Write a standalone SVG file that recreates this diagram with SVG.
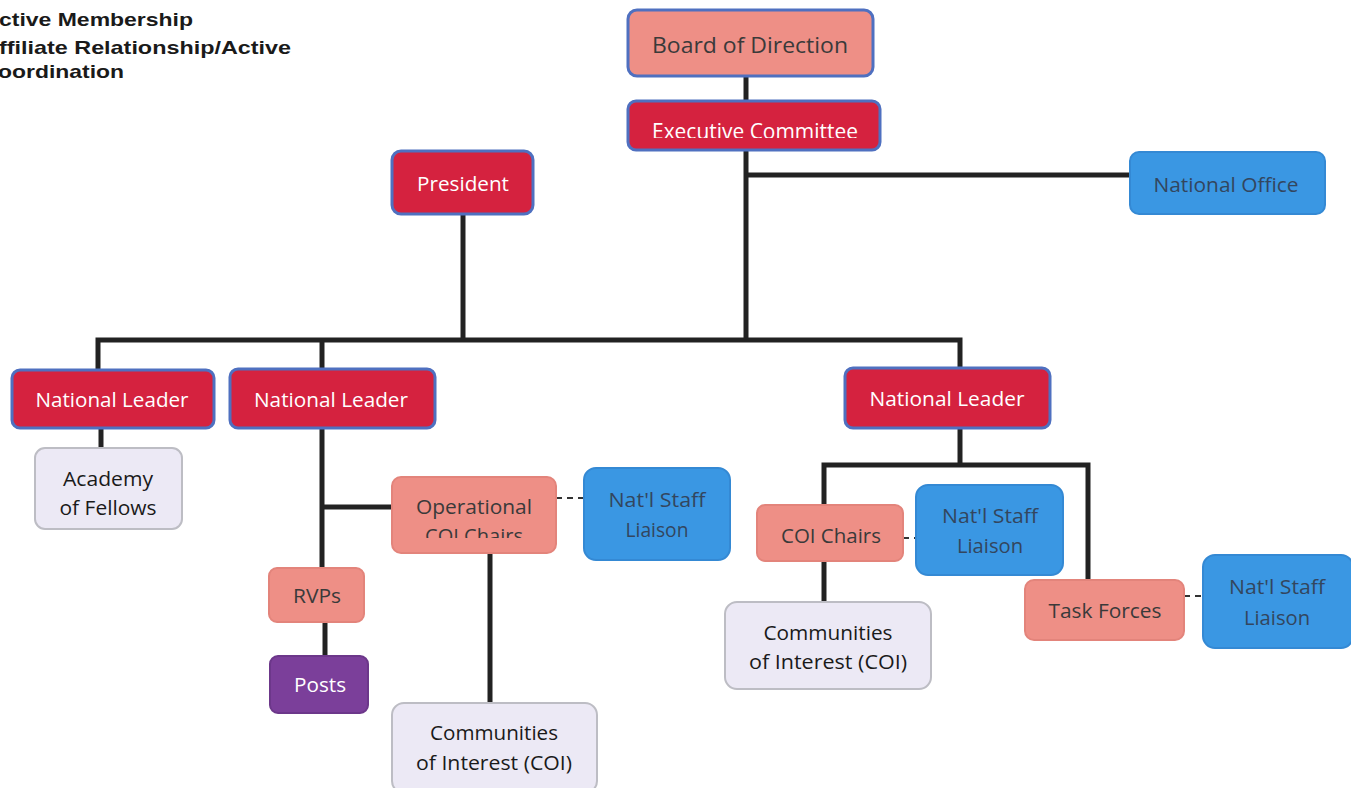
<svg xmlns="http://www.w3.org/2000/svg" width="1351" height="788" viewBox="0 0 1351 788">
<defs>
<style>
.t{font-family:"Open Sans","Noto Sans","Liberation Sans",sans-serif;text-anchor:middle}
.red rect{fill:#d5223f;stroke:#4f70c0;stroke-width:3}
.red text{fill:#ffffff}
.sal rect{fill:#ee8f86;stroke:#e3847b;stroke-width:2}
.salb rect{fill:#ee8f86;stroke:#4f70c0;stroke-width:3}
.sal text,.salb text{fill:#3a3a3a}
.blu rect{fill:#3a97e3;stroke:#3489d4;stroke-width:2}
.blu text{fill:#33465e}
.lav rect{fill:#ece9f5;stroke:#bdbdc4;stroke-width:2}
.lav text{fill:#1a1a1a}
.pur rect{fill:#7b3f9a;stroke:#6c378a;stroke-width:2}
.pur text{fill:#ffffff}
.c{stroke:#222;stroke-width:5;fill:none}
.d{stroke:#333;stroke-width:2;stroke-dasharray:6 5;fill:none}
.leg{font-family:"Liberation Sans",Arial,sans-serif;font-weight:bold;font-size:19px;fill:#1a1a1a}
</style>
<clipPath id="clipExec"><rect x="620" y="100" width="270" height="38"/></clipPath>
<clipPath id="clipOp"><rect x="390" y="476" width="170" height="62"/></clipPath>
</defs>
<rect width="1351" height="788" fill="#ffffff"/>
<g id="legend">
<text class="leg" x="-1" y="26" textLength="194" lengthAdjust="spacingAndGlyphs">ctive Membership</text>
<text class="leg" x="-1" y="54" textLength="292" lengthAdjust="spacingAndGlyphs">ffiliate Relationship/Active</text>
<text class="leg" x="-2" y="78" textLength="126" lengthAdjust="spacingAndGlyphs">oordination</text>
</g>
<g id="connectors">
<path class="c" d="M746 76V101"/>
<path class="c" d="M746 150V340"/>
<path class="c" d="M746 175H1131"/>
<path class="c" d="M463 214V340"/>
<path class="c" d="M98 370V340H960V369"/>
<path class="c" d="M322 340V370"/>
<path class="c" d="M101 428V450"/>
<path class="c" d="M322 428V570"/>
<path class="c" d="M322 507H393"/>
<path class="c" d="M325 622V656"/>
<path class="c" d="M490 553V704"/>
<path class="c" d="M960 428V465"/>
<path class="c" d="M824 506V465H1088V581"/>
<path class="c" d="M824 561V603"/>
<path class="d" d="M556 498H585"/>
<path class="d" d="M903 538H917"/>
<path class="d" d="M1184 596H1204"/>
</g>
<g id="board" class="salb"><rect x="628" y="10" width="245" height="66" rx="9"/><text class="t" x="750" y="53" font-size="22" textLength="196" lengthAdjust="spacingAndGlyphs">Board of Direction</text></g>
<g id="exec" class="red"><rect x="628" y="101" width="252" height="49" rx="8"/><text class="t" x="755" y="139" font-size="21" textLength="206" lengthAdjust="spacingAndGlyphs" clip-path="url(#clipExec)">Executive Committee</text></g>
<g id="president" class="red"><rect x="392" y="151" width="141" height="63" rx="9"/><text class="t" x="463" y="191" font-size="20" textLength="92" lengthAdjust="spacingAndGlyphs">President</text></g>
<g id="natoffice" class="blu"><rect x="1130" y="152" width="195" height="62" rx="9"/><text class="t" x="1226" y="192" font-size="20" textLength="145" lengthAdjust="spacingAndGlyphs">National Office</text></g>
<g id="nl1" class="red"><rect x="12" y="370" width="202" height="58" rx="8"/><text class="t" x="112" y="407" font-size="20" textLength="153" lengthAdjust="spacingAndGlyphs">National Leader</text></g>
<g id="nl2" class="red"><rect x="230" y="369" width="205" height="59" rx="8"/><text class="t" x="331" y="407" font-size="20" textLength="154" lengthAdjust="spacingAndGlyphs">National Leader</text></g>
<g id="nl3" class="red"><rect x="845" y="368" width="205" height="60" rx="8"/><text class="t" x="947" y="406" font-size="20" textLength="155" lengthAdjust="spacingAndGlyphs">National Leader</text></g>
<g id="academy" class="lav"><rect x="35" y="448" width="147" height="81" rx="10"/><text class="t" x="108" y="486" font-size="20" textLength="90" lengthAdjust="spacingAndGlyphs">Academy</text><text class="t" x="108" y="515" font-size="20" textLength="97" lengthAdjust="spacingAndGlyphs">of Fellows</text></g>
<g id="opcoi" class="sal"><rect x="392" y="477" width="164" height="76" rx="9"/><text class="t" x="474" y="514" font-size="20" textLength="116" lengthAdjust="spacingAndGlyphs">Operational</text><text class="t" x="474" y="543" font-size="20" textLength="98" lengthAdjust="spacingAndGlyphs" clip-path="url(#clipOp)">COI Chairs</text></g>
<g id="staff1" class="blu"><rect x="584" y="468" width="146" height="92" rx="12"/><text class="t" x="657" y="507" font-size="20" textLength="97" lengthAdjust="spacingAndGlyphs">Nat'l Staff</text><text class="t" x="657" y="537" font-size="20" textLength="63" lengthAdjust="spacingAndGlyphs">Liaison</text></g>
<g id="rvps" class="sal"><rect x="269" y="568" width="95" height="54" rx="8"/><text class="t" x="317" y="603" font-size="20" textLength="48" lengthAdjust="spacingAndGlyphs">RVPs</text></g>
<g id="posts" class="pur"><rect x="270" y="656" width="98" height="57" rx="8"/><text class="t" x="320" y="692" font-size="20" textLength="52" lengthAdjust="spacingAndGlyphs">Posts</text></g>
<g id="coi1" class="lav"><rect x="392" y="703" width="205" height="90" rx="12"/><text class="t" x="494" y="740" font-size="20" textLength="128" lengthAdjust="spacingAndGlyphs">Communities</text><text class="t" x="494" y="770" font-size="20" textLength="156" lengthAdjust="spacingAndGlyphs">of Interest (COI)</text></g>
<g id="coichairs" class="sal"><rect x="757" y="505" width="146" height="56" rx="8"/><text class="t" x="831" y="543" font-size="20" textLength="100" lengthAdjust="spacingAndGlyphs">COI Chairs</text></g>
<g id="staff2" class="blu"><rect x="916" y="485" width="147" height="90" rx="12"/><text class="t" x="990" y="523" font-size="20" textLength="96" lengthAdjust="spacingAndGlyphs">Nat'l Staff</text><text class="t" x="990" y="553" font-size="20" textLength="66" lengthAdjust="spacingAndGlyphs">Liaison</text></g>
<g id="coi2" class="lav"><rect x="725" y="602" width="206" height="87" rx="12"/><text class="t" x="828" y="640" font-size="20" textLength="129" lengthAdjust="spacingAndGlyphs">Communities</text><text class="t" x="828" y="669" font-size="20" textLength="158" lengthAdjust="spacingAndGlyphs">of Interest (COI)</text></g>
<g id="taskforces" class="sal"><rect x="1025" y="580" width="159" height="60" rx="9"/><text class="t" x="1105" y="618" font-size="20" textLength="113" lengthAdjust="spacingAndGlyphs">Task Forces</text></g>
<g id="staff3" class="blu"><rect x="1203" y="555" width="150" height="93" rx="12"/><text class="t" x="1277" y="594" font-size="20" textLength="96" lengthAdjust="spacingAndGlyphs">Nat'l Staff</text><text class="t" x="1277" y="625" font-size="20" textLength="66" lengthAdjust="spacingAndGlyphs">Liaison</text></g>
</svg>
